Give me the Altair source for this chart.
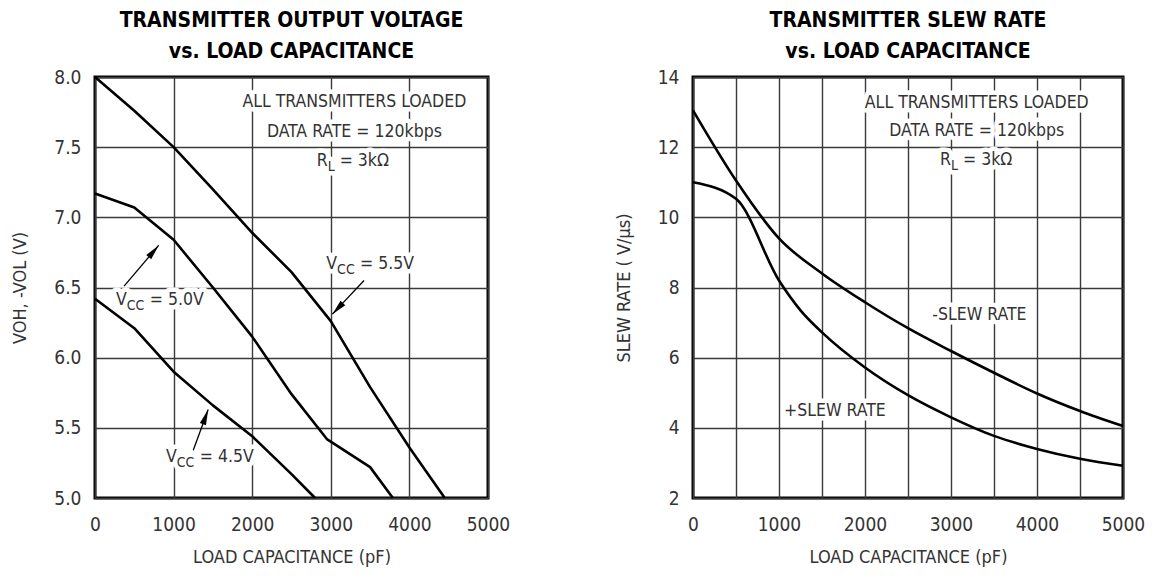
import math
import altair as alt
import pandas as pd

FONT = "'DejaVu Sans Condensed', 'Liberation Sans', sans-serif"
TEXT_COLOR = "#333333"

# ---------------- data ----------------
cap_grid = [0, 500, 1000, 1500, 2000, 2500, 3000, 3500, 4000, 4500, 5000]

# Left panel: output voltage vs load capacitance
v55_cap = [0, 500, 1000, 1500, 2000, 2500, 3000, 3500, 4000, 4450]
v55_val = [8.0, 7.76, 7.5, 7.2, 6.89, 6.61, 6.26, 5.79, 5.36, 5.0]
v50_cap = [0, 500, 1000, 1500, 2000, 2500, 2950, 3500, 3790]
v50_val = [7.17, 7.07, 6.84, 6.5, 6.15, 5.74, 5.42, 5.22, 5.0]
v45_cap = [0, 500, 1000, 1500, 2000, 2500, 2800]
v45_val = [6.42, 6.21, 5.9, 5.66, 5.44, 5.17, 5.0]
left_y_grid = [5.0, 5.5, 6.0, 6.5, 7.0, 7.5, 8.0]

# Right panel: slew rate vs load capacitance
neg_cap = [0, 500, 1000, 1500, 2000, 2500, 3000, 3500, 4000, 4500, 5000]
neg_slew = [13.05, 11.05, 9.4, 8.4, 7.58, 6.84, 6.19, 5.57, 4.98, 4.48, 4.05]
pos_cap = [0, 500, 1000, 1250, 1500, 2000, 2500, 3000, 3500, 4000, 4500, 5000]
pos_slew = [11.0, 10.53, 8.2, 7.35, 6.72, 5.72, 4.93, 4.3, 3.77, 3.4, 3.12, 2.92]
right_y_grid = [2, 4, 6, 8, 10, 12, 14]

# annotation text (anchors in data units)
note_lines = ["ALL TRANSMITTERS LOADED", "DATA RATE = 120kbps"]
left_note_cap = [3300, 3300]
left_note_val = [7.82, 7.61]
right_note_cap = [3300, 3300]
right_note_val = [13.27, 12.45]

# ---------------- sizes ----------------
LW, LH = 393, 421
RW, RH = 430, 421
NOTE_SIZE = 17.5


def curve_df(xs, ys, name):
    return pd.DataFrame({"c": xs, "v": ys, "s": name})


def x_enc(field="c"):
    return alt.X(
        f"{field}:Q",
        scale=alt.Scale(domain=[0, 5000], nice=False, zero=False),
        axis=alt.Axis(
            values=cap_grid,
            labelExpr="datum.value % 1000 == 0 ? datum.label : ''",
            format="d",
            labelFlush=False,
            title="LOAD CAPACITANCE (pF)",
        ),
    )


def y_enc(domain, grid, fmt, title, field="v"):
    return alt.Y(
        f"{field}:Q",
        scale=alt.Scale(domain=domain, nice=False, zero=False),
        axis=alt.Axis(values=grid, format=fmt, title=title, labelFlush=False),
    )


class TextSet:
    """Collects text pieces; halos are drawn first, then all texts on top."""

    def __init__(self):
        self.items = []

    def add(self, df, size, **kw):
        self.items.append((df, size, kw))

    def sub_label(self, c, v, main, sub, rest, size=NOTE_SIZE, sub_size=14, rest_dx=23):
        d = lambda t: pd.DataFrame({"c": [c], "v": [v], "t": [t]})
        self.add(d(main), size, align="right", baseline="middle")
        self.add(d(sub), sub_size, align="left", baseline="middle", dy=6)
        self.add(d(rest), size, align="left", baseline="middle", dx=rest_dx)

    def layers(self):
        halos, texts = [], []
        for df, size, kw in self.items:
            base = alt.Chart(df)
            halos.append(base.mark_text(
                font=FONT, fontSize=size, stroke="white", strokeWidth=9,
                strokeJoin="round", fill="white", **kw
            ).encode(x="c:Q", y="v:Q", text="t:N"))
            texts.append(base.mark_text(
                font=FONT, fontSize=size, fill=TEXT_COLOR, **kw
            ).encode(x="c:Q", y="v:Q", text="t:N"))
        return halos + texts


def arrow(c1, v1, c2, v2, xpx, ypx):
    dxp = (c2 - c1) * xpx
    dyp = -(v2 - v1) * ypx
    ang = math.degrees(math.atan2(dxp, -dyp)) % 360
    d = pd.DataFrame({"c": [c1], "v": [v1], "c2": [c2], "v2": [v2], "a": [ang]})
    shaft = alt.Chart(d).mark_rule(color="black", strokeWidth=1.3).encode(
        x="c:Q", y="v:Q", x2="c2:Q", y2="v2:Q"
    )
    head = alt.Chart(d).mark_point(
        shape="M0,0 L-0.55,2.6 L0.55,2.6 Z", filled=True, size=140,
        color="black", opacity=1, strokeWidth=0
    ).encode(x="c2:Q", y="v2:Q", angle=alt.Angle("a:Q", scale=None))
    return [shaft, head]


# ---------------- left chart ----------------
left_df = pd.concat([
    curve_df(v55_cap, v55_val, "5.5"),
    curve_df(v50_cap, v50_val, "5.0"),
    curve_df(v45_cap, v45_val, "4.5"),
])
lx = LW / 5000
ly = LH / 3.0

left_lines = alt.Chart(left_df).mark_line(
    color="black", strokeWidth=2.6, interpolate="linear", strokeJoin="round"
).encode(
    x=x_enc(),
    y=y_enc([5, 8], left_y_grid, ".1f", "VOH, -VOL (V)"),
    detail="s:N",
)

lt = TextSet()
lt.add(pd.DataFrame({"c": left_note_cap, "v": left_note_val, "t": note_lines}),
       NOTE_SIZE, align="center", baseline="middle")
lt.sub_label(2960, 7.40, "R", "L", "= 3kΩ", rest_dx=12)
lt.sub_label(404, 6.41, "V", "CC", "= 5.0V")
lt.sub_label(3080, 6.67, "V", "CC", "= 5.5V")
lt.sub_label(1040, 5.29, "V", "CC", "= 4.5V")

left_layers = [left_lines] + lt.layers()
left_layers += arrow(370, 6.51, 810, 6.80, lx, ly)
left_layers += arrow(3423, 6.55, 3020, 6.31, lx, ly)
left_layers += arrow(1250, 5.34, 1440, 5.63, lx, ly)

left = alt.layer(*left_layers).properties(
    width=LW, height=LH,
    title=alt.TitleParams(
        ["TRANSMITTER OUTPUT VOLTAGE", "vs. LOAD CAPACITANCE"],
        anchor="middle", frame="group",
    ),
)

# ---------------- right chart ----------------
right_df = pd.concat([
    curve_df(neg_cap, neg_slew, "neg"),
    curve_df(pos_cap, pos_slew, "pos"),
])

right_lines = alt.Chart(right_df).mark_line(
    color="black", strokeWidth=2.6, interpolate="monotone"
).encode(
    x=x_enc(),
    y=y_enc([2, 14], right_y_grid, "d", "SLEW RATE ( V/µs)"),
    detail="s:N",
)

rt = TextSet()
rt.add(pd.DataFrame({"c": right_note_cap, "v": right_note_val, "t": note_lines}),
       NOTE_SIZE, align="center", baseline="middle")
rt.sub_label(3000, 11.63, "R", "L", "= 3kΩ", rest_dx=12)
rt.add(pd.DataFrame({"c": [3330, 1650], "v": [7.21, 4.48],
                     "t": ["-SLEW RATE", "+SLEW RATE"]}),
       NOTE_SIZE, align="center", baseline="middle")

right = alt.layer(right_lines, *rt.layers()).properties(
    width=RW, height=RH,
    title=alt.TitleParams(
        ["TRANSMITTER SLEW RATE", "vs. LOAD CAPACITANCE"],
        anchor="middle", frame="group",
    ),
)

chart = alt.hconcat(left, right, spacing=101).properties(
    padding={"left": 2, "top": 0, "right": 2, "bottom": 5},
).configure(
    background="white",
).configure_view(
    stroke="black", strokeWidth=3,
).configure_axis(
    domain=False,
    ticks=False,
    grid=True,
    gridColor="#3a3a3a",
    gridWidth=1.4,
    gridOpacity=1,
    labelFont=FONT,
    labelFontSize=19,
    labelColor=TEXT_COLOR,
    labelPadding=17,
    titleFont=FONT,
    titleFontSize=18,
    titleFontWeight="normal",
    titleColor=TEXT_COLOR,
    titlePadding=14,
).configure_axisY(
    labelPadding=14,
    titlePadding=24,
).configure_title(
    font=FONT,
    fontSize=21,
    fontWeight="bold",
    color="black",
    lineHeight=31,
    offset=6,
)

chart.save("out.html", embed_options={"renderer": "svg", "actions": False})
